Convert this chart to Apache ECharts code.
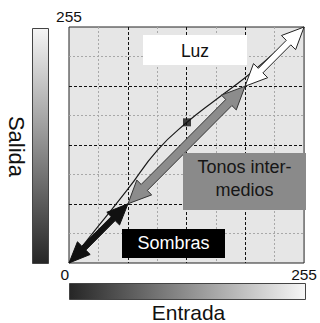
<!DOCTYPE html>
<html>
<head>
<meta charset="utf-8">
<script src="https://cdn.jsdelivr.net/npm/echarts@6/dist/echarts.min.js"></script>
<style>
html,body{margin:0;padding:0;background:#fff;}
#chart{width:320px;height:323px;}
</style>
</head>
<body>
<div id="chart"></div>
<script>
// ---- data ----
const curveX = [0, 32, 64, 96, 128, 160, 192, 224, 255];
const curveY = [0, 40, 80, 122, 152, 177, 201, 228, 255];
const controlPoint = [128, 152];
const arrowStart = [[0, 0], [64, 64], [191, 191]];
const arrowEnd = [[64, 64], [191, 191], [255, 255]];
const xTickLabels = ['0', '255'];
const yTopLabel = '255';
const yTitle = 'Salida';
const xTitle = 'Entrada';
const boxLabels = ['Luz', 'Tonos inter-\nmedios', 'Sombras'];

const FONT = "'Liberation Sans', Arial, Helvetica, sans-serif";

const arrowStyles = [
  { fill: '#111111', stroke: '#111111', headLen: 21, headHalf: 9, shaftHalf: 2.8 },
  { fill: '#8c8c8c', stroke: '#333333', headLen: 23, headHalf: 10.5, shaftHalf: 4.3 },
  { fill: '#ffffff', stroke: '#222222', headLen: 22, headHalf: 10, shaftHalf: 3.2 }
];

const arrowData = arrowStart.map((s, i) => [s[0], s[1], arrowEnd[i][0], arrowEnd[i][1], i]);
const curveData = curveX.map((x, i) => [x, curveY[i]]);

function arrowPoints(p1, p2, hl, hh, sh) {
  const dx = p2[0] - p1[0], dy = p2[1] - p1[1];
  const L = Math.sqrt(dx * dx + dy * dy);
  const ux = dx / L, uy = dy / L, nx = -uy, ny = ux;
  const P = (base, a, b) => [base[0] + ux * a + nx * b, base[1] + uy * a + ny * b];
  return [
    p1,
    P(p1, hl, hh), P(p1, hl, sh),
    P(p2, -hl, sh), P(p2, -hl, hh),
    p2,
    P(p2, -hl, -hh), P(p2, -hl, -sh),
    P(p1, hl, -sh), P(p1, hl, -hh)
  ];
}

const chart = echarts.init(document.getElementById('chart'), null, { renderer: 'svg' });

const option = {
  animation: false,
  backgroundColor: '#ffffff',
  grid: {
    left: 69, top: 27, width: 237, height: 236,
    show: true, backgroundColor: '#e6e6e6', borderColor: '#222222', borderWidth: 1
  },
  xAxis: {
    type: 'value', min: 0, max: 255, interval: 63.75,
    axisLine: { show: false }, axisTick: { show: false },
    axisLabel: {
      margin: 3, fontSize: 15.5, color: '#111', fontFamily: FONT,
      formatter: v => (v === 0 ? xTickLabels[0] : (v === 255 ? xTickLabels[1] : '')),
      alignMinLabel: 'right', alignMaxLabel: 'center'
    },
    splitLine: { show: true, showMinLine: false, showMaxLine: false,
      lineStyle: { color: '#111', width: 1, type: [3, 2] } },
    minorTick: { show: false, splitNumber: 2 },
    minorSplitLine: { show: true, lineStyle: { color: '#a8a8a8', width: 1, type: [2, 2] } }
  },
  yAxis: {
    type: 'value', min: 0, max: 255, interval: 63.75,
    name: yTopLabel, nameLocation: 'end', nameGap: 3,
    nameTextStyle: { fontSize: 15.5, color: '#111', fontFamily: FONT, align: 'center' },
    axisLine: { show: false }, axisTick: { show: false }, axisLabel: { show: false },
    splitLine: { show: true, showMinLine: false, showMaxLine: false,
      lineStyle: { color: '#111', width: 1, type: [3, 2] } },
    minorTick: { show: false, splitNumber: 2 },
    minorSplitLine: { show: true, lineStyle: { color: '#a8a8a8', width: 1, type: [2, 2] } }
  },
  series: [
    {
      type: 'line', data: curveData, smooth: 0.5, symbol: 'none', z: 3,
      lineStyle: { color: '#1a1a1a', width: 1.2 }
    },
    {
      type: 'custom', z: 4, clip: false,
      data: arrowData,
      encode: { x: [0, 2], y: [1, 3] },
      renderItem: function (params, api) {
        const i = api.value(4);
        const st = arrowStyles[i];
        const p1 = api.coord([api.value(0), api.value(1)]);
        const p2 = api.coord([api.value(2), api.value(3)]);
        return {
          type: 'polygon',
          shape: { points: arrowPoints(p1, p2, st.headLen, st.headHalf, st.shaftHalf) },
          style: { fill: st.fill, stroke: st.stroke, lineWidth: 1 }
        };
      }
    },
    {
      type: 'scatter', data: [controlPoint], symbol: 'rect', symbolSize: 8, z: 5,
      itemStyle: { color: '#111' }
    }
  ],
  graphic: [
    { type: 'rect', z: 10, shape: { x: 32.5, y: 28.5, width: 16, height: 235 },
      style: { fill: new echarts.graphic.LinearGradient(0, 0, 0, 1, [
        { offset: 0, color: '#f5f5f5' }, { offset: 1, color: '#262626' }]),
        stroke: '#444', lineWidth: 1 } },
    { type: 'rect', z: 10, shape: { x: 69.5, y: 283.5, width: 236, height: 16 },
      style: { fill: new echarts.graphic.LinearGradient(0, 0, 1, 0, [
        { offset: 0, color: '#262626' }, { offset: 1, color: '#f7f7f7' }]),
        stroke: '#444', lineWidth: 1 } },
    { type: 'text', z: 10, x: 16, y: 146.5, rotation: -Math.PI / 2,
      style: { text: yTitle, fontSize: 22, fontFamily: FONT, fill: '#111',
        align: 'center', verticalAlign: 'middle', textAlign: 'center', textVerticalAlign: 'middle' } },
    { type: 'text', z: 10, x: 188.5, y: 312,
      style: { text: xTitle, fontSize: 21, fontFamily: FONT, fill: '#111',
        align: 'center', verticalAlign: 'middle', textAlign: 'center', textVerticalAlign: 'middle' } },
    { type: 'rect', z: 10, shape: { x: 143, y: 35, width: 104, height: 30 }, style: { fill: '#ffffff' } },
    { type: 'text', z: 11, x: 195, y: 50.5,
      style: { text: boxLabels[0], fontSize: 17.5, fontFamily: FONT, fill: '#111',
        align: 'center', verticalAlign: 'middle', textAlign: 'center', textVerticalAlign: 'middle' } },
    { type: 'rect', z: 10, shape: { x: 183, y: 153, width: 123, height: 57 }, style: { fill: '#8a8a8a' } },
    { type: 'text', z: 11, x: 244.5, y: 178.5,
      style: { text: boxLabels[1], fontSize: 18, lineHeight: 23.5, fontFamily: FONT, fill: '#161616',
        align: 'center', verticalAlign: 'middle', textAlign: 'center', textVerticalAlign: 'middle' } },
    { type: 'rect', z: 10, shape: { x: 122, y: 229, width: 103, height: 29 }, style: { fill: '#000000' } },
    { type: 'text', z: 11, x: 173.5, y: 242.5,
      style: { text: boxLabels[2], fontSize: 18, fontFamily: FONT, fill: '#ffffff',
        align: 'center', verticalAlign: 'middle', textAlign: 'center', textVerticalAlign: 'middle' } }
  ]
};
chart.setOption(option);
</script>
</body>
</html>
